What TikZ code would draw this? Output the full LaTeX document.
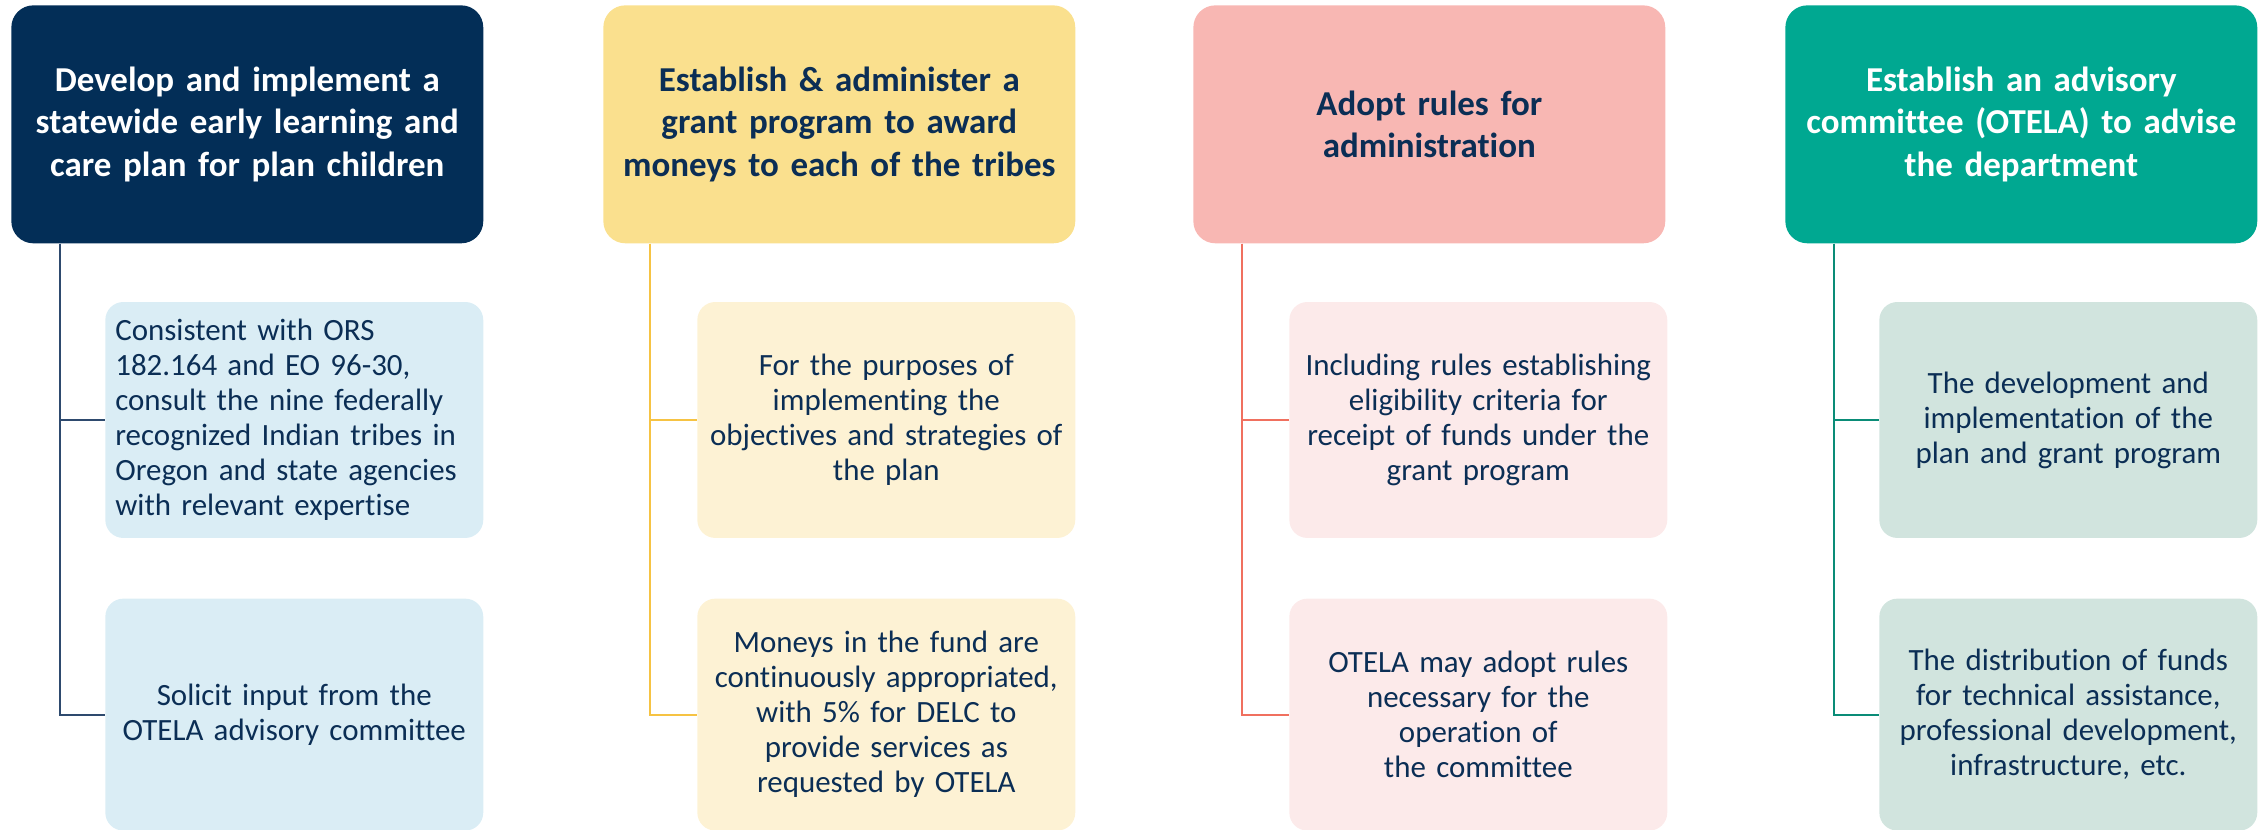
\documentclass[tikz,border=0pt]{standalone}
\usepackage{fontspec}
\setmainfont[Ligatures={NoCommon}]{Carlito}
\usetikzlibrary{positioning}

\definecolor{navy}{HTML}{032E57}
\definecolor{inknavy}{HTML}{0B2E55}
\definecolor{gold}{HTML}{FAE08E}
\definecolor{rose}{HTML}{F8B7B3}
\definecolor{teal}{HTML}{00A891}
\definecolor{paleblue}{HTML}{DAEDF5}
\definecolor{paleyellow}{HTML}{FDF2D4}
\definecolor{palerose}{HTML}{FCEAEA}
\definecolor{palegreen}{HTML}{D1E4DE}
\definecolor{linenavy}{HTML}{2E4A6E}
\definecolor{linegold}{HTML}{F6C343}
\definecolor{linerose}{HTML}{F0705F}
\definecolor{lineteal}{HTML}{0A8C77}

\begin{document}
\begin{tikzpicture}[x=0.02cm, y=-0.02cm,
    headbox/.style={rectangle, rounded corners=0.44cm, minimum width=9.44cm,
      minimum height=4.76cm, anchor=north west, inner sep=0pt, align=center,
      text width=9.1cm, font=\fontsize{19.9}{24}\selectfont\bfseries},
    subbox/.style={rectangle, rounded corners=0.36cm, minimum width=7.56cm,
      minimum height=4.72cm, inner xsep=0.2cm, text width=7.16cm, align=center,
      text=inknavy, font=\fontsize{17.6}{19.9}\selectfont},
    trunk/.style={line width=1.2pt}]
  \useasboundingbox (0,0) rectangle (2267,829);

  % header boxes
  \node[headbox, fill=navy, text=white] (h1) at (11,5)
    {Develop and implement a\\ statewide early learning and\\ care plan for plan children};
  \node[headbox, fill=gold, text=inknavy] (h2) at (603,5)
    {Establish \& administer a\\ grant program to award\\ moneys to each of the tribes};
  \node[headbox, fill=rose, text=inknavy] (h3) at (1193,5)
    {Adopt rules for\\ administration};
  \node[headbox, fill=teal, text=white] (h4) at (1785,5)
    {Establish an advisory\\ committee (OTELA) to advise\\ the department};

  % sub boxes
  \node[subbox, fill=paleblue, align=left, below right=1.16cm and 1.88cm of h1.south west] (c11)
    {Consistent with ORS\\ 182.164 and EO 96-30,\\ consult the nine federally\\
     recognized Indian tribes in\\ Oregon and state agencies\\ with relevant expertise};
  \node[subbox, fill=paleblue, minimum height=4.64cm, below=1.2cm of c11] (c12)
    {Solicit input from the\\ OTELA advisory committee};

  \node[subbox, fill=paleyellow, below right=1.16cm and 1.88cm of h2.south west] (c21)
    {For the purposes of\\ implementing the\\ objectives and strategies of\\ the plan};
  \node[subbox, fill=paleyellow, minimum height=4.64cm, below=1.2cm of c21] (c22)
    {Moneys in the fund are\\ continuously appropriated,\\ with 5\% for DELC to\\
     provide services as\\ requested by OTELA};

  \node[subbox, fill=palerose, below right=1.16cm and 1.92cm of h3.south west] (c31)
    {Including rules establishing\\ eligibility criteria for\\ receipt of funds under the\\ grant program};
  \node[subbox, fill=palerose, minimum height=4.64cm, below=1.2cm of c31] (c32)
    {OTELA may adopt rules\\ necessary for the\\ operation of\\ the committee};

  \node[subbox, fill=palegreen, below right=1.16cm and 1.88cm of h4.south west] (c41)
    {The development and\\ implementation of the\\ plan and grant program};
  \node[subbox, fill=palegreen, minimum height=4.64cm, below=1.2cm of c41] (c42)
    {The distribution of funds\\ for technical assistance,\\ professional development,\\ infrastructure, etc.};

  % connectors
  \coordinate (t1) at ([xshift=0.98cm]h1.south west);
  \coordinate (t2) at ([xshift=0.94cm]h2.south west);
  \coordinate (t3) at ([xshift=0.98cm]h3.south west);
  \coordinate (t4) at ([xshift=0.98cm]h4.south west);

  \draw[trunk, linenavy] (t1) |- (c11.west);
  \draw[trunk, linenavy] (t1) |- (c12.west);
  \draw[trunk, linegold] (t2) |- (c21.west);
  \draw[trunk, linegold] (t2) |- (c22.west);
  \draw[trunk, linerose] (t3) |- (c31.west);
  \draw[trunk, linerose] (t3) |- (c32.west);
  \draw[trunk, lineteal] (t4) |- (c41.west);
  \draw[trunk, lineteal] (t4) |- (c42.west);
\end{tikzpicture}
\end{document}
